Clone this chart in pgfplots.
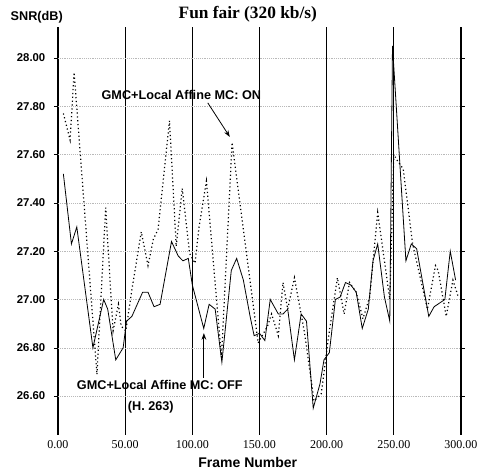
\documentclass[border=0pt]{standalone}
\usepackage{fontspec}
\setmainfont{Liberation Serif}
\setsansfont{Liberation Sans}
\usepackage{pgfplots}
\pgfplotsset{compat=1.18}
\usetikzlibrary{arrows.meta}

% H.263 reference (GMC + local affine MC off)
\pgfplotstableread{
f snr
4 27.52
10 27.23
14 27.30
26 26.80
34 27.00
37 26.96
43 26.75
48.5 26.80
51 26.91
55 26.93
63 27.03
67 27.03
71.5 26.97
76 26.98
84.5 27.24
89.5 27.18
93 27.16
97 27.17
100 27.06
108.5 26.88
112.5 26.98
117 26.96
122 26.74
129 27.12
133 27.17
138 27.08
143 26.93
146 26.85
150 26.86
154 26.83
158 27.00
164 26.94
167.5 26.94
171 26.96
176 26.75
181 26.94
185 26.91
190 26.55
195 26.65
198 26.75
202 26.78
206.5 27.00
210 27.01
214 27.07
218 27.06
222 27.03
226.5 26.88
231 26.96
234.5 27.16
238 27.23
243 27.01
247 26.91
249 28.05
259 27.16
263 27.23
267 27.21
276 26.93
280 26.97
288 27.00
292 27.20
296 27.08
}\off

% GMC + local affine MC on
\pgfplotstableread{
f snr
4 27.77
9 27.66
12 27.94
29 26.69
35.5 27.38
41 26.87
45 26.98
47 26.89
50.5 26.87
55 27.04
62 27.28
67 27.14
71 27.25
74.5 27.29
83 27.74
88 27.22
92.5 27.46
98 27.19
102 27.15
105 27.30
110.5 27.49
121.7 26.76
129.6 27.65
149 26.82
156 26.89
159 26.94
164 26.85
167.5 27.07
171 26.96
176 27.09
183.6 26.86
190.6 26.58
196 26.61
201 26.83
208 27.09
213 26.94
217 27.07
222 27.03
227 26.92
232 27.01
238 27.36
247 27.00
250 27.60
252 27.58
257 27.54
264 27.23
275 26.96
281 27.14
283 27.12
289 26.93
294 27.08
298 27.01
}\on

\begin{document}
\begin{tikzpicture}
\begin{axis}[
  scale only axis,
  width=302.25pt, height=306pt,
  xmin=0, xmax=300,
  ymin=26.439, ymax=28.128,
  xtick={0,50,...,300},
  ytick={26.6,26.8,...,28.01},
  axis line style={draw=none},
  xmajorgrids, major x grid style={black, line width=0.8pt},
  ymajorgrids, major y grid style={gray!55, densely dotted},
  xtick style={draw=none},
  ytick style={black, thin},
  tick align=outside, major tick length=3pt,
  /pgf/number format/.cd, fixed, fixed zerofill, precision=2, assume math mode=true,
  /pgfplots/.cd,
  xticklabel style={font=\fontsize{9}{10}\selectfont, yshift=2.5pt},
  yticklabel style={font=\sffamily\bfseries\fontsize{8.5}{10}\selectfont, xshift=-3pt},
  clip=false,
]
\addplot[black, semithick] table[x=f, y=snr] {\off};
\addplot[black, line width=0.9pt, dotted] table[x=f, y=snr] {\on};

\node[font=\bfseries\fontsize{13}{15}\selectfont] at (axis cs:141.3,28.182) {Fun fair (320 kb/s)};
\node[font=\sffamily\bfseries\fontsize{9.5}{11}\selectfont, anchor=west] at (axis cs:-38.7,28.17) {SNR(dB)};
\node[font=\sffamily\bfseries\fontsize{10.5}{12}\selectfont] at (axis cs:141.3,26.326) {Frame Number};

\node[font=\sffamily\bfseries\fontsize{9.5}{11}\selectfont] at (axis cs:91.8,27.847) {GMC+Local Affine MC: ON};
\draw[-{Stealth[length=5pt,width=3.5pt]}, semithick] (axis cs:111.5,27.814) -- (axis cs:127.9,27.673);

\node[font=\sffamily\bfseries\fontsize{9.5}{11}\selectfont] at (axis cs:75.8,26.646) {GMC+Local Affine MC: OFF};
\node[font=\sffamily\bfseries\fontsize{9.5}{11}\selectfont] at (axis cs:69.1,26.555) {(H. 263)};
\draw[-{Stealth[length=5pt,width=3.5pt]}, semithick] (axis cs:108.6,26.675) -- (axis cs:108.6,26.861);
\end{axis}
\pgfresetboundingbox
\path (-43.5pt,-28.5pt) rectangle (316.5pt,326.25pt);
\end{tikzpicture}
\end{document}
